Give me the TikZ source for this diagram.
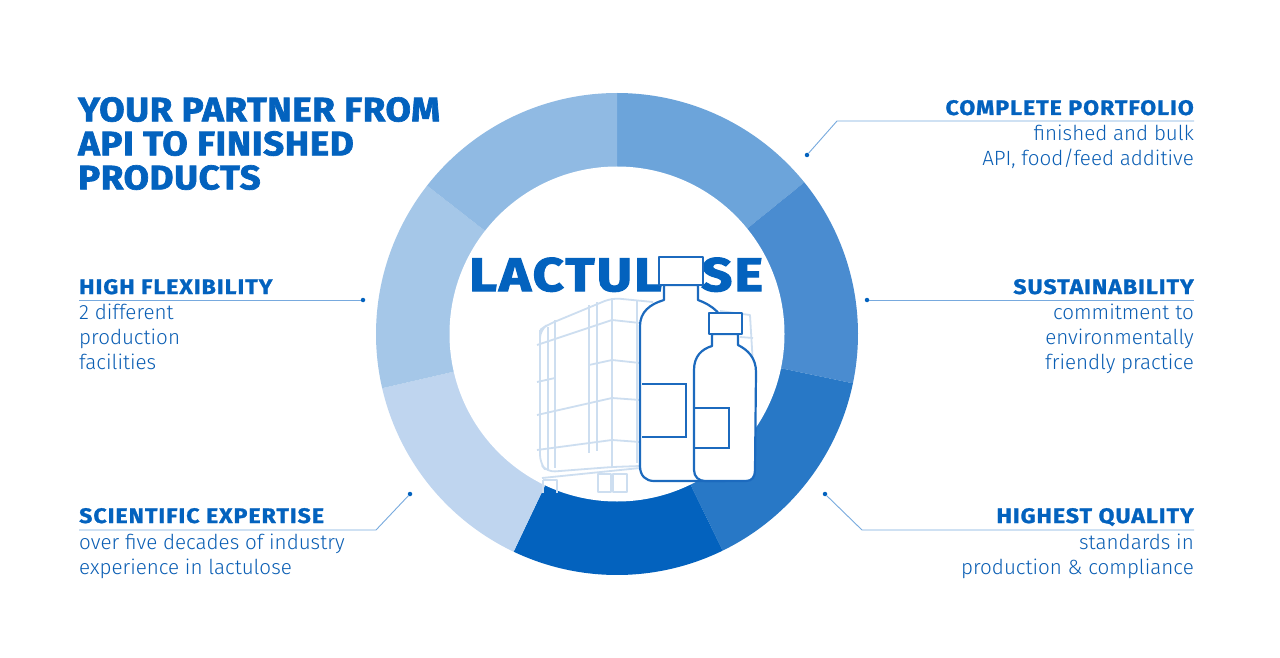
\documentclass[tikz,border=0pt]{standalone}
\usepackage{fontspec}
\usetikzlibrary{calc}
\setmainfont{Fira Sans Light}
\newfontfamily\headfont[LetterSpace=4.8,FakeBold=1.2,FakeStretch=1.1]{Fira Sans Bold}
\newfontfamily\titlefont[LetterSpace=1.8,FakeBold=2,FakeStretch=1.08]{Fira Sans Bold}
\newfontfamily\wordfont[LetterSpace=4.7,FakeBold=2.5,FakeStretch=1.15]{Fira Sans Bold}
\definecolor{brandblue}{RGB}{3, 98, 190}
\definecolor{textblue}{RGB}{10, 94, 180}
\definecolor{rulelight}{RGB}{120, 170, 222}
\definecolor{ibcblue}{RGB}{205, 222, 240}
\definecolor{bottleblue}{RGB}{28, 106, 190}

\begin{document}
\begin{tikzpicture}[
  x=1pt, y=-1pt,
  title/.style={anchor=north west, inner sep=0pt, align=left, text=brandblue, font=\fontsize{34}{34}\selectfont\titlefont},
  headl/.style={anchor=base west, inner sep=0pt, text=brandblue, font=\fontsize{21}{25}\selectfont\headfont},
  headr/.style={anchor=base east, inner sep=0pt, text=brandblue, font=\fontsize{21}{25}\selectfont\headfont},
  bodyl/.style={anchor=north west, inner sep=0pt, align=left, text=textblue, font=\fontsize{20.6}{25}\selectfont},
  bodyr/.style={anchor=north east, inner sep=0pt, align=right, text=textblue, font=\fontsize{20.6}{25}\selectfont},
  bullet/.style={circle, fill=brandblue, inner sep=0pt, minimum size=4.5pt},
  leader/.style={draw=rulelight, line width=0.9pt},
  ibc/.style={draw=ibcblue, line width=1.8pt, line join=round},
  bottle/.style={draw=bottleblue, line width=2.2pt, fill=white, line join=round},
  bottlemark/.style={draw=bottleblue, line width=2.2pt}
]
  \useasboundingbox (0,0) rectangle (1280,658);
  \fill[white] (0,0) rectangle (1280,658);

  % ring
  \coordinate (ctr) at (617,334);
  \foreach \a/\b/\col in {90/39/108 164 218, 39/-11.8/74 140 208, -11.8/-64/40 120 198, -64/-115.4/3 98 190,
      -115.4/-167/191 213 239, -167/-218/165 199 232, -218/-270/144 186 227} {
    \definecolor{segcol}{RGB}{\col}
    \fill[segcol] (ctr) -- ($(ctr)+(\a:241pt)$) arc[start angle=\a, end angle=\b, radius=241pt] -- cycle;
  }
  \node[circle, fill=white, inner sep=0pt, minimum size=335pt] (hub) at (ctr) {};

  % title and centre word
  \node[title] (titletext) at (78,97) {YOUR PARTNER FROM\\API TO FINISHED\\PRODUCTS};
  \node[anchor=base west, inner sep=0pt, text=brandblue, font=\fontsize{47}{47}\selectfont\wordfont] (word) at (469,291) {LACTULOSE};

  % tote
  \draw[ibc, rounded corners=8pt] (540,343) -- (540,330) -- (547,325) -- (612,298) -- (653,302);
  \draw[ibc, rounded corners=8pt] (540,330) -- (540,463) -- (547,472) -- (612,467) -- (640,466);
  \foreach \xa/\ya/\xb/\yb in {548/327/548/470, 555/320/555/468, 589/305/589/453, 597/302/597/451, 612/298/612/467, 637/300/637/463}
    \draw[ibc] (\xa,\ya) -- (\xb,\yb);
  \draw[ibc] (537,345) -- (612,320) -- (640,323);
  \draw[ibc] (537,382) -- (555,378);
  \draw[ibc] (589,365) -- (612,360) -- (640,363);
  \draw[ibc] (537,415) -- (612,398) -- (640,400);
  \draw[ibc] (537,450) -- (612,440) -- (640,442);
  \draw[ibc] (542,478) -- (640,468);
  \draw[ibc] (543,480) -- (543,493) (543,480) -- (557,480) -- (557,493);
  \draw[ibc] (598,474) rectangle (611,492);
  \draw[ibc] (613,474) rectangle (627,492);
  % tote seen past the big bottle
  \draw[ibc] (720,311) -- (750,315) -- (753,365);
  \draw[ibc] (740,337) -- (753,338);

  % big bottle
  \draw[bottle] (664,285) -- (664,300) .. controls (650,304) and (640,312) .. (640,326) -- (640,466)
    .. controls (640,476) and (646,481) .. (654,481) -- (725,481) -- (725,330) .. controls (725,315) and (712,305) .. (698,300) -- (698,285) -- cycle;
  \draw[bottle] (659,257) rectangle (703,285);
  \draw[bottlemark] (642,384) -- (686,384) -- (686,437) -- (642,437);

  % small bottle
  \draw[bottle] (712,334) -- (712,346) .. controls (702,349) and (694,356) .. (694,370) -- (694,470)
    .. controls (694,477) and (699,481) .. (705,481) -- (746,481) .. controls (752,481) and (755,477) .. (755,470)
    -- (756,372) .. controls (756,358) and (748,350) .. (738,345) -- (738,334) -- cycle;
  \draw[bottle] (709,313) rectangle (742,334);
  \draw[bottlemark] (695,408) -- (729,408) -- (729,448) -- (695,448);

  % top right
  \node[headr] (portfoliohead) at (1194,115) {COMPLETE PORTFOLIO};
  \node[bodyr] (portfoliobody) at (1194,125) {finished and bulk\\API, food/feed additive};
  \node[bullet] (portfoliodot) at (807,155) {};
  \coordinate (portfoliobend) at (837,121);
  \coordinate (portfolioend) at (1194,121);
  \draw[leader] (portfoliodot) -- (portfoliobend) -- (portfolioend);

  % middle right
  \node[headr] (sustainhead) at (1194,294) {SUSTAINABILITY};
  \node[bodyr] (sustainbody) at (1194,304) {commitment to\\environmentally\\friendly practice};
  \node[bullet] (sustaindot) at (867,300) {};
  \coordinate (sustainend) at (1194,300);
  \draw[leader] (sustaindot) -- (sustainend);

  % bottom right
  \node[headr] (qualityhead) at (1194,523) {HIGHEST QUALITY};
  \node[bodyr] (qualitybody) at (1194,534) {standards in\\production \& compliance};
  \node[bullet] (qualitydot) at (825,494) {};
  \coordinate (qualitybend) at (862,530);
  \coordinate (qualityend) at (1194,530);
  \draw[leader] (qualitydot) -- (qualitybend) -- (qualityend);

  % middle left
  \node[headl] (flexhead) at (79,294) {HIGH FLEXIBILITY};
  \node[bodyl] (flexbody) at (79,304) {2 different\\production\\facilities};
  \node[bullet] (flexdot) at (363,300) {};
  \coordinate (flexstart) at (79,300);
  \draw[leader] (flexstart) -- (flexdot);

  % bottom left
  \node[headl] (sciencehead) at (79,523) {SCIENTIFIC EXPERTISE};
  \node[bodyl] (sciencebody) at (79,534) {over five decades of industry\\experience in lactulose};
  \node[bullet] (sciencedot) at (410,494) {};
  \coordinate (sciencestart) at (79,530);
  \coordinate (sciencebend) at (376,530);
  \draw[leader] (sciencestart) -- (sciencebend) -- (sciencedot);
\end{tikzpicture}
\end{document}
